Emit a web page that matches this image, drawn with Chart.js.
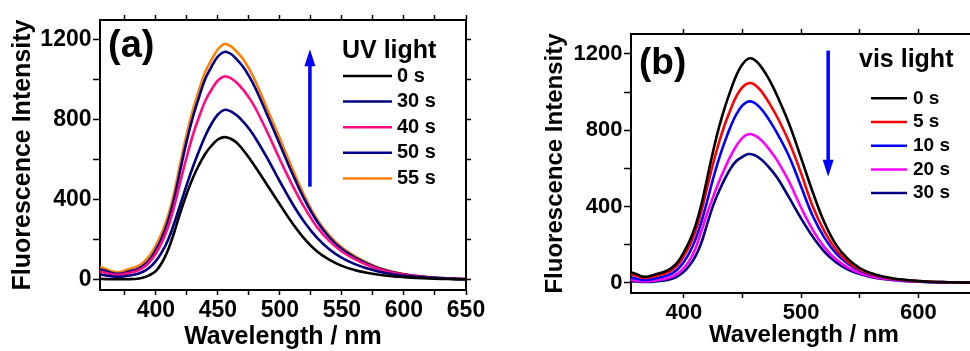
<!DOCTYPE html>
<html>
<head>
<meta charset="utf-8">
<script src="https://cdn.jsdelivr.net/npm/chart.js@4.4.1/dist/chart.umd.min.js"></script>
<style>
  html, body { margin: 0; padding: 0; background: #fff; overflow: hidden; }
  body { width: 970px; height: 351px; position: relative; }
  canvas { position: absolute; top: 0; }
  #chartA { left: 0; }
  #chartB { left: 485px; }
</style>
</head>
<body>
<canvas id="chartA" width="500" height="351"></canvas>
<canvas id="chartB" width="510" height="351"></canvas>
<script>
const FONT = "'Liberation Sans', Arial, Helvetica, sans-serif";

// wavelength grid (nm)
const wavelengths = [355, 360, 365, 370, 375, 380, 385, 390, 395, 400, 405, 410, 415, 420, 425, 430, 435, 440, 445, 450,
    455, 460, 465, 470, 475, 480, 490, 500, 510, 520, 530, 540, 550, 560, 570, 580, 590, 600, 610, 620, 630, 640, 650];

// (a) UV light
const uvLabels = ['0 s', '30 s', '40 s', '50 s', '55 s'];
const uvColors = ['#000000', '#000080', '#FF0A80', '#00008B', '#FF8000'];
const uv0s = [3, 2, 1, 1, 1, 2, 4, 10, 22, 42, 85, 150, 240, 340, 430, 510, 575, 630, 670, 700,
    712, 705, 685, 650, 610, 565, 470, 375, 282, 202, 140, 98, 68, 48, 34, 24, 17, 12, 8, 5, 3, 2, 1];
const uv30s = [25, 20, 15, 13, 16, 21, 28, 40, 60, 92, 138, 200, 285, 380, 475, 565, 645, 720, 780, 825,
    848, 842, 822, 792, 755, 710, 605, 490, 380, 285, 208, 150, 108, 78, 56, 39, 27, 18, 12, 8, 5, 3, 1];
const uv40s = [40, 33, 26, 23, 28, 35, 44, 60, 88, 130, 188, 265, 370, 495, 615, 725, 815, 895, 950, 995,
    1015, 1008, 985, 952, 910, 860, 735, 600, 472, 358, 262, 192, 140, 103, 74, 51, 35, 24, 16, 10, 6, 4, 2];
const uv50s = [50, 42, 32, 28, 34, 42, 52, 70, 100, 148, 210, 295, 410, 555, 695, 815, 915, 1005, 1065, 1115,
    1138, 1130, 1102, 1066, 1018, 960, 820, 675, 530, 398, 290, 210, 152, 112, 80, 55, 38, 26, 17, 11, 7, 4, 2];
const uv55s = [62, 52, 40, 36, 45, 55, 65, 85, 120, 170, 235, 320, 440, 590, 730, 850, 950, 1040, 1100, 1150,
    1177, 1168, 1140, 1105, 1055, 995, 850, 705, 555, 415, 300, 220, 160, 118, 85, 58, 40, 27, 18, 12, 7, 4, 2];

// (b) vis light
const visLabels = ['0 s', '5 s', '10 s', '20 s', '30 s'];
const visColors = ['#000000', '#FF0000', '#0000FF', '#FF00FF', '#000080'];
const vis0s = [55, 45, 33, 34, 43, 52, 62, 80, 110, 160, 220, 300, 410, 550, 690, 815, 920, 1010, 1090, 1145,
    1175, 1170, 1140, 1095, 1040, 975, 830, 655, 475, 315, 198, 125, 78, 50, 33, 22, 15, 10, 6, 4, 3, 2, 1];
const vis5s = [44, 36, 27, 28, 35, 43, 52, 68, 95, 140, 195, 270, 375, 500, 625, 735, 830, 910, 980, 1025,
    1046, 1040, 1012, 970, 920, 865, 735, 575, 400, 268, 172, 110, 70, 45, 30, 20, 14, 9, 6, 4, 3, 2, 1];
const vis10s = [28, 22, 16, 17, 22, 29, 37, 50, 73, 110, 160, 228, 320, 430, 545, 650, 740, 820, 885, 930,
    950, 944, 918, 880, 832, 780, 660, 505, 350, 236, 153, 100, 64, 42, 28, 19, 13, 8, 5, 4, 3, 2, 1];
const vis20s = [16, 12, 8, 9, 12, 17, 23, 33, 50, 78, 118, 180, 270, 365, 450, 530, 600, 665, 720, 760,
    779, 774, 754, 722, 682, 638, 528, 395, 278, 186, 122, 80, 52, 34, 23, 15, 10, 7, 5, 3, 2, 1, 1];
const vis30s = [9, 7, 5, 5, 7, 10, 14, 22, 36, 58, 92, 140, 210, 310, 405, 480, 545, 600, 640, 660,
    675, 670, 652, 624, 588, 548, 445, 338, 242, 163, 107, 70, 46, 30, 20, 14, 9, 6, 4, 3, 2, 1, 1];

// ticks
const yTicks = [0, 200, 400, 600, 800, 1000, 1200];
const yLabels = [0, 400, 800, 1200];
const xTicksA = [375, 400, 425, 450, 475, 500, 525, 550, 575, 600, 625, 650];
const xLabelsA = [400, 450, 500, 550, 600, 650];
const xTicksB = [400, 450, 500, 550, 600, 650];
const xLabelsB = [400, 500, 600];

Chart.defaults.font.family = FONT;
Chart.defaults.color = '#000';

// legend box, panel tag and arrow
const panelDecor = {
    id: 'panelDecor',
    afterDraw(chart, args, opts) {
        const ctx = chart.ctx;
        const xs = chart.scales.x;
        const ys = chart.scales.y;
        ctx.save();
        ctx.fillStyle = '#000';
        ctx.textAlign = 'left';
        ctx.textBaseline = 'alphabetic';
        ctx.font = `bold ${opts.tagSize}px ${FONT}`;
        ctx.fillText(opts.tag, opts.tagX, opts.tagY);

        ctx.font = `bold ${opts.titleSize}px ${FONT}`;
        ctx.fillText(opts.legendTitle, opts.legendX, opts.titleY);

        ctx.font = `bold ${opts.itemSize}px ${FONT}`;
        ctx.textBaseline = 'middle';
        chart.data.datasets.forEach((ds, i) => {
            const rowY = opts.rowY + i * opts.rowStep;
            ctx.strokeStyle = ds.borderColor;
            ctx.lineWidth = 2.5;
            ctx.beginPath();
            ctx.moveTo(opts.lineX0, rowY);
            ctx.lineTo(opts.lineX1, rowY);
            ctx.stroke();
            ctx.fillText(ds.label, opts.textX, rowY);
        });

        // arrow
        const ax = xs.getPixelForValue(opts.arrow.x);
        const yTail = ys.getPixelForValue(opts.arrow.from);
        const yTip = ys.getPixelForValue(opts.arrow.to);
        const dir = Math.sign(yTip - yTail);
        ctx.strokeStyle = '#0000FF';
        ctx.fillStyle = '#0000FF';
        ctx.lineWidth = 3.5;
        ctx.beginPath();
        ctx.moveTo(ax, yTail);
        ctx.lineTo(ax, yTip - dir * 14);
        ctx.stroke();
        ctx.beginPath();
        ctx.moveTo(ax, yTip);
        ctx.lineTo(ax - 5.5, yTip - dir * 17);
        ctx.lineTo(ax + 5.5, yTip - dir * 17);
        ctx.closePath();
        ctx.fill();
        ctx.restore();
    }
};

const borderOpts = { display: true, color: '#000', width: 2 };
const gridOpts = (len) => ({
    display: true, drawOnChartArea: false, drawTicks: true,
    tickLength: len, tickWidth: 1.5, tickColor: '#000', color: '#000'
});

function makeChart(id, series, labels, colors, L) {
    const setX = s => { s.ticks = L.xTicks.map(v => ({ value: v })); };
    const setY = s => { s.ticks = yTicks.map(v => ({ value: v })); };
    return new Chart(document.getElementById(id), {
        type: 'line',
        data: {
            datasets: series.map((s, i) => ({
                label: labels[i],
                data: wavelengths.map((w, j) => ({ x: w, y: s[j] })),
                borderColor: colors[i],
                borderWidth: 2.6,
                pointRadius: 0,
                tension: 0.4,
                fill: false
            }))
        },
        options: {
            responsive: false,
            animation: false,
            events: [],
            layout: { padding: 0 },
            plugins: {
                legend: { display: false },
                tooltip: { enabled: false },
                panelDecor: L.decor
            },
            scales: {
                x: {
                    type: 'linear', position: 'bottom', min: L.xMin, max: L.xMax,
                    afterBuildTicks: setX,
                    afterFit: s => { s.height = L.bottom; },
                    ticks: {
                        autoSkip: false, maxRotation: 0, padding: 2,
                        font: { size: L.tickSize, weight: 'bold' },
                        callback: v => L.xLabels.includes(v) ? String(v) : ''
                    },
                    grid: gridOpts(5),
                    border: borderOpts,
                    title: {
                        display: true, text: 'Wavelength / nm',
                        font: { size: L.titleSize, weight: 'bold', lineHeight: 1.2 },
                        padding: { top: 0, bottom: L.xTitlePad }
                    }
                },
                x2: {
                    type: 'linear', position: 'top', min: L.xMin, max: L.xMax,
                    afterBuildTicks: setX,
                    afterFit: s => { s.height = L.top; },
                    ticks: { display: false },
                    grid: gridOpts(5),
                    border: borderOpts
                },
                y: {
                    type: 'linear', position: 'left', min: L.yMin, max: L.yMax,
                    afterBuildTicks: setY,
                    afterFit: s => { s.width = L.left; },
                    ticks: {
                        autoSkip: false, padding: 1.5,
                        font: { size: L.tickSize, weight: 'bold' },
                        callback: v => yLabels.includes(v) ? String(v) : ''
                    },
                    grid: gridOpts(7),
                    border: borderOpts,
                    title: {
                        display: true, text: 'Fluorescence Intensity',
                        font: { size: L.titleSize, weight: 'bold', lineHeight: 1.2 },
                        padding: { top: L.yTitlePad, bottom: 0 }
                    }
                },
                y2: {
                    type: 'linear', position: 'right', min: L.yMin, max: L.yMax,
                    afterBuildTicks: setY,
                    afterFit: s => { s.width = L.right; },
                    ticks: { display: false },
                    grid: gridOpts(5),
                    border: borderOpts
                }
            }
        },
        plugins: [panelDecor]
    });
}

makeChart('chartA', [uv0s, uv30s, uv40s, uv50s, uv55s], uvLabels, uvColors, {
    xMin: 355, xMax: 650, yMin: -52.5, yMax: 1297.5,
    xTicks: xTicksA, xLabels: xLabelsA,
    left: 100, right: 34, top: 20, bottom: 61,
    tickSize: 23, titleSize: 25, xTitlePad: -1, yTitlePad: 8,
    decor: {
        tag: '(a)', tagSize: 38, tagX: 108, tagY: 57,
        legendTitle: 'UV light', titleSize: 25, legendX: 342, titleY: 58,
        itemSize: 20, rowY: 76, rowStep: 25.6, lineX0: 343, lineX1: 392, textX: 397,
        arrow: { x: 524.2, from: 464, to: 1151 }
    }
});

makeChart('chartB', [vis0s, vis5s, vis10s, vis20s, vis30s], visLabels, visColors, {
    xMin: 355, xMax: 650, yMin: -53, yMax: 1304,
    xTicks: xTicksB, xLabels: xLabelsB,
    left: 146, right: 18, top: 34, bottom: 58,
    tickSize: 22, titleSize: 24, xTitlePad: 1, yTitlePad: 56,
    decor: {
        tag: '(b)', tagSize: 37, tagX: 154, tagY: 74,
        legendTitle: 'vis light', titleSize: 25, legendX: 374, titleY: 67,
        itemSize: 19, rowY: 98.3, rowStep: 23.7, lineX0: 386, lineX1: 422, textX: 428,
        arrow: { x: 523.1, from: 1217, to: 556 }
    }
});
</script>
</body>
</html>
